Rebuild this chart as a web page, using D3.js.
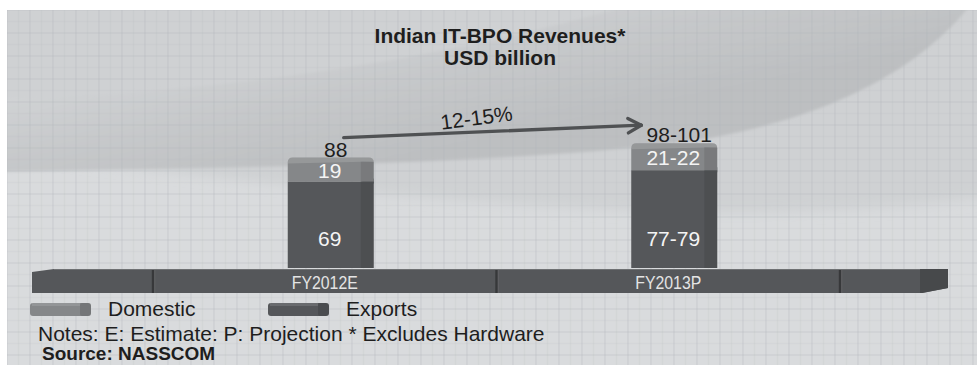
<!DOCTYPE html>
<html>
<head>
<meta charset="utf-8">
<script src="https://cdn.jsdelivr.net/npm/d3@7"></script>
<style>
  html, body { margin: 0; padding: 0; background: #fff; }
  svg { display: block; font-family: "Liberation Sans", Arial, Helvetica, sans-serif; }
</style>
</head>
<body>
<svg id="chart" width="977" height="365"></svg>
<script>
// ---- data ----
const categories = ["FY2012E", "FY2013P"];
const exportsValues = [69, 78];          // 77-79
const domesticValues = [19, 21.5];       // 21-22
const exportsLabels = ["69", "77-79"];
const domesticLabels = ["19", "21-22"];
const totalLabels = ["88", "98-101"];
const growthLabel = "12-15%";
const seriesNames = ["Domestic", "Exports"];
const titleLines = ["Indian IT-BPO Revenues*", "USD billion"];
const noteText = "Notes: E: Estimate: P: Projection * Excludes Hardware";
const sourceText = "Source: NASSCOM";

// ---- setup ----
const W = 977, H = 365;
const svg = d3.select("#chart");
const defs = svg.append("defs");

const colors = { Domestic: "#858789", Exports: "#55575a" };
const textDark = "#1e1e1e";

defs.append("filter").attr("id", "soft").attr("x", "-5%").attr("y", "-5%").attr("width", "110%").attr("height", "110%")
  .append("feGaussianBlur").attr("stdDeviation", 1.6);
defs.append("filter").attr("id", "softer").attr("x", "-5%").attr("y", "-5%").attr("width", "110%").attr("height", "110%")
  .append("feGaussianBlur").attr("stdDeviation", 6);

const grad = defs.append("linearGradient").attr("id", "swoosh")
  .attr("gradientUnits", "userSpaceOnUse")
  .attr("x1", 330).attr("y1", 20).attr("x2", 360).attr("y2", 165);
grad.append("stop").attr("offset", 0).attr("stop-color", "#d2d4d6");
grad.append("stop").attr("offset", 0.5).attr("stop-color", "#c6c8ca");
grad.append("stop").attr("offset", 1).attr("stop-color", "#bdbfc1");

// ---- background panel ----
const panel = svg.append("g");
panel.append("rect").attr("x", 7).attr("y", 10).attr("width", W - 7).attr("height", H - 10).attr("fill", "#d9dbdd");

const clip = defs.append("clipPath").attr("id", "panelClip");
clip.append("rect").attr("x", 7).attr("y", 10).attr("width", W - 7).attr("height", H - 10);

const bg = panel.append("g").attr("clip-path", "url(#panelClip)");
// light upper field behind the title
bg.append("path")
  .attr("d", "M-20,110 C 200,100 450,60 640,-10 L-20,-10 Z")
  .attr("fill", "#d3d5d7").attr("filter", "url(#softer)");
// broad mid-tone band under the swoosh
bg.append("path")
  .attr("d", "M-20,150 C 200,175 420,205 680,212 C 800,215 900,208 1000,196 L1000,-20 L-20,-20 Z")
  .attr("fill", "#cfd1d3").attr("filter", "url(#softer)");
// darker crescent sweeping up to the top right
bg.append("path")
  .attr("d", "M-10,172 C 260,168 560,162 710,138 C 850,112 925,60 968,8 L 620,8 C 430,62 200,96 -10,98 Z")
  .attr("fill", "url(#swoosh)").attr("filter", "url(#soft)");

// faint paper grid
const gridG = bg.append("g").attr("stroke", "#b4b7ba").attr("fill", "none");
d3.range(7, W, 11.5).forEach((gx, i) => {
  gridG.append("line").attr("x1", gx).attr("x2", gx).attr("y1", 10).attr("y2", H)
    .attr("stroke-width", 1.4).attr("opacity", i % 2 ? 0.14 : 0.3);
});
d3.range(10, H, 11.5).forEach((gy, i) => {
  gridG.append("line").attr("y1", gy).attr("y2", gy).attr("x1", 7).attr("x2", W)
    .attr("stroke-width", 1.4).attr("opacity", i % 2 ? 0.12 : 0.25);
});

// ---- scales ----
const x = d3.scaleBand().domain(categories).range([153, 840]).padding(0);
const y = d3.scaleLinear().domain([0, 110]).range([268, 130]);
const barW = 86, barShift = 6;
const cx = c => x(c) + x.bandwidth() / 2;
const barX = c => cx(c) + barShift - barW / 2;

// ---- title ----
svg.append("g").selectAll("text").data(titleLines).join("text")
  .attr("x", 500).attr("y", (d, i) => 43 + i * 22)
  .attr("text-anchor", "middle").attr("font-size", 21).attr("font-weight", "bold")
  .attr("fill", textDark).text(d => d);

// ---- stacked 3D bars ----
const rows = categories.map((c, i) => ({ cat: c, Exports: exportsValues[i], Domestic: domesticValues[i] }));
const stacked = d3.stack().keys(["Exports", "Domestic"])(rows);

const barsG = svg.append("g");
stacked.forEach(layer => {
  const key = layer.key;
  layer.forEach(seg => {
    const c = seg.data.cat;
    const x0 = barX(c);
    const yTop = y(seg[1]), yBot = y(seg[0]);
    const g = barsG.append("g");
    if (key === "Domestic") {
      const r = 5;
      g.append("path")
        .attr("d", `M${x0},${yBot} L${x0},${yTop + r} Q${x0},${yTop} ${x0 + r},${yTop} L${x0 + barW - r},${yTop} Q${x0 + barW},${yTop} ${x0 + barW},${yTop + r} L${x0 + barW},${yBot} Z`)
        .attr("fill", colors[key]);
      // lighter top face
      g.append("path")
        .attr("d", `M${x0},${yTop + 6} L${x0},${yTop + r} Q${x0},${yTop} ${x0 + r},${yTop} L${x0 + barW - r},${yTop} Q${x0 + barW},${yTop} ${x0 + barW},${yTop + r} L${x0 + barW},${yTop + 4} Z`)
        .attr("fill", "#ffffff").attr("opacity", 0.14);
    } else {
      g.append("rect").attr("x", x0).attr("y", yTop).attr("width", barW).attr("height", yBot - yTop)
        .attr("fill", colors[key]);
      // slanted top edge of the lower block on the side face
      g.append("path")
        .attr("d", `M${x0 + barW - 13},${yTop} L${x0 + barW},${yTop - 3} L${x0 + barW},${yTop + 2} L${x0 + barW - 13},${yTop + 2} Z`)
        .attr("fill", colors[key]);
    }
    // darker side face
    g.append("rect").attr("x", x0 + barW - 13).attr("y", yTop + (key === "Domestic" ? 4 : 0))
      .attr("width", 13).attr("height", yBot - yTop - (key === "Domestic" ? 4 : 0))
      .attr("fill", "#000").attr("opacity", 0.09);
  });
});

// value labels inside the bars
const labelsG = svg.append("g").attr("font-size", 21).attr("text-anchor", "middle");
categories.forEach((c, i) => {
  const mx = cx(c) + barShift;
  const domTop = y(exportsValues[i] + domesticValues[i]);
  const domBot = y(exportsValues[i]);
  labelsG.append("text").attr("x", mx - 1).attr("y", (domTop + domBot) / 2 + 8)
    .attr("fill", "#f4f4f4").text(domesticLabels[i]);
  labelsG.append("text").attr("x", mx - 1).attr("y", y(0) - 22)
    .attr("fill", "#f4f4f4").text(exportsLabels[i]);
  labelsG.append("text").attr("x", mx + 5).attr("y", domTop - 1)
    .attr("fill", textDark).text(totalLabels[i]);
});

// ---- category base slab ----
const [r0, r1] = x.range();
const slabL = r0 - 121, slabR = r1 + 108, slabT = y(0) + 1, slabB = y(0) + 25;
const slab = svg.append("g");
slab.append("path")
  .attr("d", `M${slabL},${slabT + 3} L${slabL + 22},${slabT} L${slabR},${slabT} L${slabR},${slabB - 5} L${slabR - 26},${slabB} L${slabL},${slabB} Z`)
  .attr("fill", "#55575a");
slab.append("path")
  .attr("d", `M${slabR - 28},${slabT} L${slabR},${slabT} L${slabR},${slabB - 5} L${slabR - 26},${slabB} L${slabR - 28},${slabB} Z`)
  .attr("fill", "#47494b");
slab.append("line").attr("x1", slabL + 22).attr("x2", slabR - 28).attr("y1", slabT + 0.5).attr("y2", slabT + 0.5)
  .attr("stroke", "#6f7173").attr("stroke-width", 1.2);
const dividers = [r0].concat(categories.map(c => x(c) + x.bandwidth()));
dividers.forEach(dx => {
  slab.append("line").attr("x1", dx).attr("x2", dx).attr("y1", slabT + 1).attr("y2", slabB)
    .attr("stroke", "#37383a").attr("stroke-width", 2.4);
  slab.append("line").attr("x1", dx + 1.8).attr("x2", dx + 1.8).attr("y1", slabT + 1).attr("y2", slabB)
    .attr("stroke", "#646668").attr("stroke-width", 0.8);
});
slab.selectAll("text.cat").data(categories).join("text").attr("class", "cat")
  .attr("x", d => cx(d)).attr("y", slabB - 4)
  .attr("text-anchor", "middle").attr("font-size", 19)
  .attr("textLength", 66).attr("lengthAdjust", "spacingAndGlyphs")
  .attr("fill", "#e4e4e4").text(d => d);

// ---- growth arrow ----
const ax1 = cx(categories[0]) + barShift + 13, ay1 = y(exportsValues[0] + domesticValues[0]) - 20;
const ax2 = cx(categories[1]) + barShift - 33, ay2 = y(exportsValues[1] + domesticValues[1]) - 18;
const ang = Math.atan2(ay2 - ay1, ax2 - ax1);
const arrow = svg.append("g").attr("stroke", "#4f5153").attr("stroke-width", 3.4)
  .attr("stroke-linecap", "round").attr("fill", "none");
arrow.append("line").attr("x1", ax1).attr("y1", ay1).attr("x2", ax2).attr("y2", ay2);
[0.5, -0.5].forEach(a => {
  const t = ang + Math.PI + a;
  arrow.append("line").attr("x1", ax2).attr("y1", ay2)
    .attr("x2", ax2 + 15 * Math.cos(t)).attr("y2", ay2 + 15 * Math.sin(t));
});
const tFrac = 0.45;
const tx = ax1 + (ax2 - ax1) * tFrac, ty = ay1 + (ay2 - ay1) * tFrac;
const deg = ang * 180 / Math.PI - 5;
svg.append("text")
  .attr("transform", `translate(${tx + 6 * Math.sin(ang)},${ty - 7 * Math.cos(ang)}) rotate(${deg})`)
  .attr("text-anchor", "middle").attr("font-size", 21).attr("fill", textDark).text(growthLabel);

// ---- legend ----
const legend = svg.append("g");
seriesNames.forEach((name, i) => {
  const lx = 30 + i * 238, ly = 303;
  legend.append("rect").attr("x", lx).attr("y", ly).attr("width", 61).attr("height", 13).attr("rx", 3)
    .attr("fill", colors[name]);
  legend.append("rect").attr("x", lx + 50).attr("y", ly).attr("width", 11).attr("height", 13).attr("rx", 2)
    .attr("fill", "#000").attr("opacity", 0.12);
  legend.append("rect").attr("x", lx + 2).attr("y", ly).attr("width", 48).attr("height", 3)
    .attr("fill", "#fff").attr("opacity", 0.12);
  legend.append("text").attr("x", lx + 78).attr("y", 316).attr("font-size", 21)
    .attr("fill", textDark).text(name);
});

// ---- notes & source ----
svg.append("text").attr("x", 38).attr("y", 341).attr("font-size", 21).attr("fill", textDark).text(noteText);
svg.append("text").attr("x", 42).attr("y", 360).attr("font-size", 19).attr("font-weight", "bold")
  .attr("fill", textDark).text(sourceText);
</script>
</body>
</html>
